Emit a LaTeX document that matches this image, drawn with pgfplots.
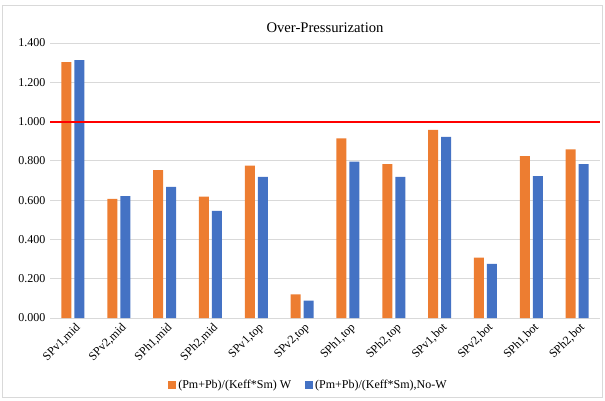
\documentclass[border=0pt]{standalone}
\usepackage{pgfplots}
\pgfplotsset{compat=1.18}
\usepackage{fontspec}
\setmainfont{Liberation Serif}
\definecolor{corange}{HTML}{ED7D31}
\definecolor{cblue}{HTML}{4472C4}
\definecolor{cgrid}{HTML}{D9D9D9}
\definecolor{cred}{HTML}{FF0000}
\begin{document}
\begin{tikzpicture}[x=1pt,y=1pt]
\useasboundingbox (-37.5,-61.5) rectangle (416.25,238.5);
\draw[cgrid,line width=0.6pt] (-35.5,-59.5) rectangle (414.5,234.5);
\begin{axis}[
  at={(0,0)}, anchor=south west,
  scale only axis, width=412.5pt, height=206.25pt,
  ymin=0, ymax=1.4, ytick={0,0.2,0.4,0.6,0.8,1.0,1.2,1.4},
  xmin=-0.5, xmax=11.5,
  xtick={0,...,11},
  xticklabels={{SPv1,mid},{SPv2,mid},{SPh1,mid},{SPh2,mid},{SPv1,top},{SPv2,top},{SPh1,top},{SPh2,top},{SPv1,bot},{SPv2,bot},{SPh1,bot},{SPh2,bot}},
  x tick label style={rotate=45, anchor=north east, font=\fontsize{9}{10}\selectfont, inner sep=1pt, yshift=-2pt},
  y tick label style={font=\fontsize{9}{10}\selectfont, /pgf/number format/.cd, fixed, fixed zerofill, precision=3, assume math mode=true},
  ymajorgrids, grid style={cgrid, line width=0.6pt},
  axis line style={draw=none},
  major tick length=0pt,
  bar width=7.5pt,
  title={Over-Pressurization},
  title style={font=\fontsize{11}{13}\selectfont, yshift=-2pt},
  legend style={at={(0.47,-0.245)}, anchor=center, draw=none, font=\fontsize{9}{10}\selectfont, legend columns=2, /tikz/every even column/.append style={column sep=8pt}},
  legend image code/.code={\fill[#1] (0pt,-3pt) rectangle (6pt,3pt);},
]
\addplot[ybar, fill=corange, draw=none, bar shift=-4.875pt] coordinates {
(0,1.303) (1,0.606) (2,0.753) (3,0.618) (4,0.776) (5,0.120) (6,0.914) (7,0.784) (8,0.958) (9,0.307) (10,0.824) (11,0.858)};
\addlegendentry{(Pm+Pb)/(Keff*Sm) W}
\addplot[ybar, fill=cblue, draw=none, bar shift=4.875pt] coordinates {
(0,1.313) (1,0.620) (2,0.668) (3,0.545) (4,0.718) (5,0.088) (6,0.796) (7,0.718) (8,0.922) (9,0.275) (10,0.722) (11,0.784)};
\addlegendentry{(Pm+Pb)/(Keff*Sm),No-W}
\addplot[draw=red, line width=1.6pt, mark=none, forget plot] coordinates {(-0.5,1) (11.5,1)};
\end{axis}
\end{tikzpicture}
\end{document}
